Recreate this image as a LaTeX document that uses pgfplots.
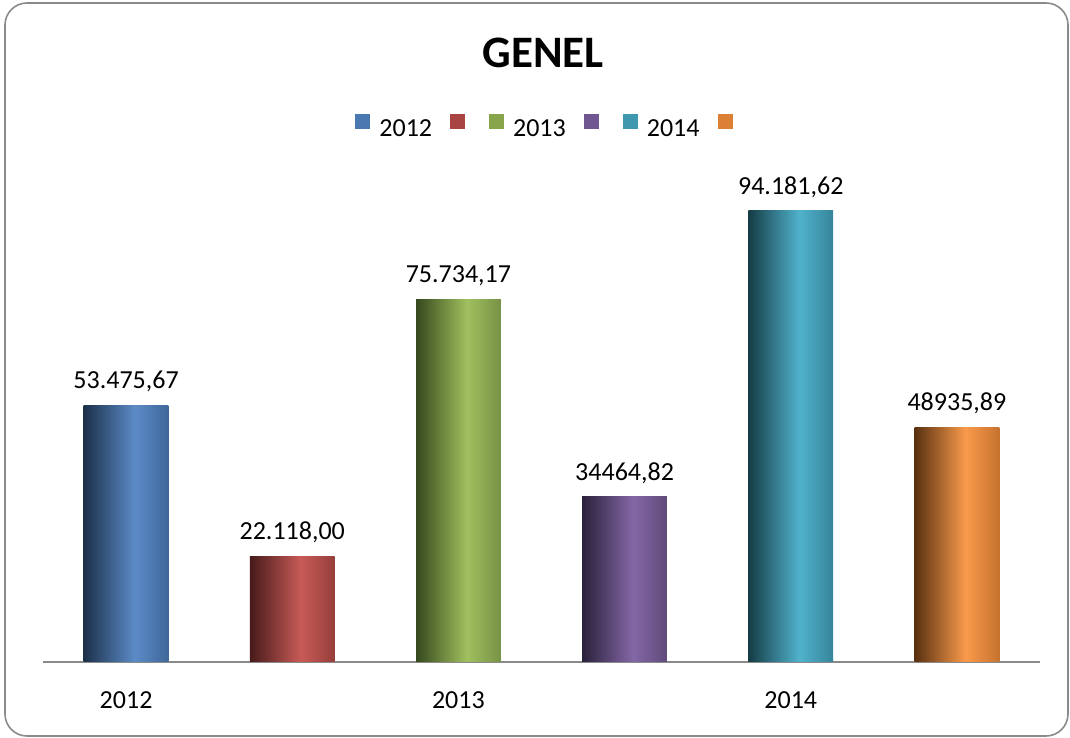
\documentclass[border=0pt]{standalone}
\usepackage{pgfplots}
\pgfplotsset{compat=1.18}
\usepackage{fontspec}
\setmainfont{Carlito}

\definecolor{bD}{HTML}{1C3049}\definecolor{bL}{HTML}{5B8BC7}\definecolor{bR}{HTML}{3F6799}\definecolor{bF}{HTML}{4A78B0}
\definecolor{rD}{HTML}{461B1A}\definecolor{rL}{HTML}{C85A57}\definecolor{rR}{HTML}{963E3B}\definecolor{rF}{HTML}{A84542}
\definecolor{gD}{HTML}{36481D}\definecolor{gL}{HTML}{A0C05E}\definecolor{gR}{HTML}{789245}\definecolor{gF}{HTML}{88A54C}
\definecolor{pD}{HTML}{2A213B}\definecolor{pL}{HTML}{8467A6}\definecolor{pR}{HTML}{604B7B}\definecolor{pF}{HTML}{715791}
\definecolor{tD}{HTML}{153C45}\definecolor{tL}{HTML}{50B2CC}\definecolor{tR}{HTML}{36859A}\definecolor{tF}{HTML}{3F98AE}
\definecolor{oD}{HTML}{58300F}\definecolor{oL}{HTML}{F99A4B}\definecolor{oR}{HTML}{C6732F}\definecolor{oF}{HTML}{DC8036}
\definecolor{frame}{HTML}{8A8A8A}

\pgfdeclarehorizontalshading{shb}{100bp}{color(0bp)=(bD); color(25bp)=(bD); color(55bp)=(bL); color(75bp)=(bR); color(100bp)=(bR)}
\pgfdeclarehorizontalshading{shr}{100bp}{color(0bp)=(rD); color(25bp)=(rD); color(55bp)=(rL); color(75bp)=(rR); color(100bp)=(rR)}
\pgfdeclarehorizontalshading{shg}{100bp}{color(0bp)=(gD); color(25bp)=(gD); color(55bp)=(gL); color(75bp)=(gR); color(100bp)=(gR)}
\pgfdeclarehorizontalshading{shp}{100bp}{color(0bp)=(pD); color(25bp)=(pD); color(55bp)=(pL); color(75bp)=(pR); color(100bp)=(pR)}
\pgfdeclarehorizontalshading{sht}{100bp}{color(0bp)=(tD); color(25bp)=(tD); color(55bp)=(tL); color(75bp)=(tR); color(100bp)=(tR)}
\pgfdeclarehorizontalshading{sho}{100bp}{color(0bp)=(oD); color(25bp)=(oD); color(55bp)=(oL); color(75bp)=(oR); color(100bp)=(oR)}

\newcommand{\lsq}[1]{\pgfpathrectangle{\pgfpoint{0pt}{-0.5pt}}{\pgfpoint{15pt}{15pt}}\pgfsetfillcolor{#1}\pgfusepath{fill}}

\begin{document}
\begin{tikzpicture}
\useasboundingbox (0,0) rectangle (1070pt,738pt);
\draw[frame, line width=1.6pt, rounded corners=22pt] (5pt,2pt) rectangle (1068pt,735pt);
\node[font=\fontsize{45}{54}\selectfont\bfseries] at (543pt,685pt) {GENEL};
\begin{axis}[
  at={(43pt,76pt)}, anchor=south west,
  scale only axis, width=997pt, height=479pt,
  xmin=-0.5, xmax=5.5, ymin=0, ymax=100000,
  clip=false,
  axis x line=bottom, axis y line=none,
  x axis line style={-, draw=frame, line width=2.5pt},
  xtick={0,2,4}, xticklabels={2012,2013,2014},
  major tick length=0pt,
  xticklabel style={font=\fontsize{26}{31}\selectfont, yshift=-26pt},
  nodes near coords={\pgfplotspointmeta},
  point meta=explicit symbolic,
  every node near coord/.append style={font=\fontsize{26}{31}\selectfont, text=black, yshift=10pt},
  legend style={at={(0.5075,1.119)}, anchor=center, draw=none, fill=none,
    font=\fontsize{26}{31}\selectfont,
    column sep=9pt, /tikz/every even column/.append style={column sep=14pt},
    nodes={inner sep=0pt}},
  legend columns=6,
]
\addplot[ybar, bar width=0.51, bar shift=0pt, draw=none, shading=shb, legend image code/.code={\lsq{bF}}]
  coordinates {(0,53475.67) [53.475,67]};
\addlegendentry{2012\hspace*{4pt}}
\addplot[ybar, bar width=0.51, bar shift=0pt, draw=none, shading=shr, legend image code/.code={\lsq{rF}}]
  coordinates {(1,22118.00) [22.118,00]};
\addlegendentry{\relax}
\addplot[ybar, bar width=0.51, bar shift=0pt, draw=none, shading=shg, legend image code/.code={\lsq{gF}}]
  coordinates {(2,75734.17) [75.734,17]};
\addlegendentry{2013\hspace*{4pt}}
\addplot[ybar, bar width=0.51, bar shift=0pt, draw=none, shading=shp, legend image code/.code={\lsq{pF}}]
  coordinates {(3,34464.82) [34464,82]};
\addlegendentry{\relax}
\addplot[ybar, bar width=0.51, bar shift=0pt, draw=none, shading=sht, legend image code/.code={\lsq{tF}}]
  coordinates {(4,94181.62) [94.181,62]};
\addlegendentry{2014\hspace*{4pt}}
\addplot[ybar, bar width=0.51, bar shift=0pt, draw=none, shading=sho, legend image code/.code={\lsq{oF}}]
  coordinates {(5,48935.89) [48935,89]};
\addlegendentry{\relax}
\end{axis}
\end{tikzpicture}
\end{document}
